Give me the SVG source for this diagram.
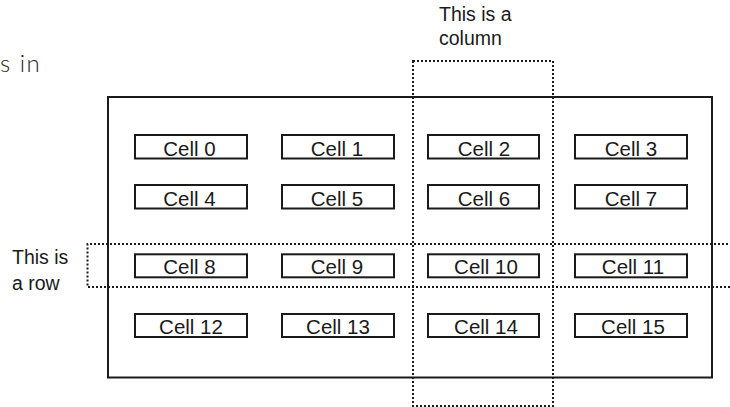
<svg xmlns="http://www.w3.org/2000/svg" width="730" height="407" viewBox="0 0 730 407">
<style>
.cell rect{fill:#fff;stroke:#1a1a1a;stroke-width:2}
.cell text{font-family:"Liberation Sans",Arial,sans-serif;font-size:20.5px;fill:#1a1a1a;text-anchor:middle}
.lbl{font-family:"Liberation Sans",Arial,sans-serif;font-size:19.5px;fill:#1a1a1a}
.dot{fill:none;stroke:#1a1a1a;stroke-width:2;stroke-dasharray:2 2}
</style>
<rect width="730" height="407" fill="#fff"/>
<text x="0" y="72" font-family="Lato, 'Open Sans', sans-serif" font-size="24" font-weight="300" fill="#222" letter-spacing="1.5">s in</text>
<g id="grid"><rect x="108" y="97" width="604" height="280.5" fill="none" stroke="#1a1a1a" stroke-width="2"/></g>
<g id="cell0" class="cell"><rect x="135" y="135" width="112" height="23.5"/><text x="189.5" y="156">Cell 0</text></g>
<g id="cell1" class="cell"><rect x="282" y="135" width="112" height="23.5"/><text x="337" y="156">Cell 1</text></g>
<g id="cell2" class="cell"><rect x="428" y="135" width="111" height="23.5"/><text x="484" y="156">Cell 2</text></g>
<g id="cell3" class="cell"><rect x="575" y="135" width="112" height="23.5"/><text x="631" y="156">Cell 3</text></g>
<g id="cell4" class="cell"><rect x="135" y="185" width="112" height="23.5"/><text x="189.5" y="206">Cell 4</text></g>
<g id="cell5" class="cell"><rect x="282" y="185" width="112" height="23.5"/><text x="337" y="206">Cell 5</text></g>
<g id="cell6" class="cell"><rect x="428" y="185" width="111" height="23.5"/><text x="484" y="206">Cell 6</text></g>
<g id="cell7" class="cell"><rect x="575" y="185" width="112" height="23.5"/><text x="631" y="206">Cell 7</text></g>
<g id="cell8" class="cell"><rect x="135" y="254.3" width="112" height="23"/><text x="189.5" y="274">Cell 8</text></g>
<g id="cell9" class="cell"><rect x="282" y="254.3" width="112" height="23"/><text x="337" y="274">Cell 9</text></g>
<g id="cell10" class="cell"><rect x="428" y="254.3" width="111" height="23"/><text x="486" y="274">Cell 10</text></g>
<g id="cell11" class="cell"><rect x="575" y="254.3" width="112" height="23"/><text x="633" y="274">Cell 11</text></g>
<g id="cell12" class="cell"><rect x="135" y="314" width="112" height="23"/><text x="191" y="334">Cell 12</text></g>
<g id="cell13" class="cell"><rect x="282" y="314" width="112" height="23"/><text x="338" y="334">Cell 13</text></g>
<g id="cell14" class="cell"><rect x="428" y="314" width="111" height="23"/><text x="486" y="334">Cell 14</text></g>
<g id="cell15" class="cell"><rect x="575" y="314" width="112" height="23"/><text x="633" y="334">Cell 15</text></g>
<g id="column">
<rect class="dot" x="413" y="61" width="140" height="345"/>
<text class="lbl" x="439" y="21">This is a</text>
<text class="lbl" x="439" y="45">column</text>
</g>
<g id="row">
<path class="dot" d="M732 244 H87.5 V287 H732"/>
<text class="lbl" x="12" y="264">This is</text>
<text class="lbl" x="12" y="290">a row</text>
</g>
<g id="connectors"></g>
</svg>
